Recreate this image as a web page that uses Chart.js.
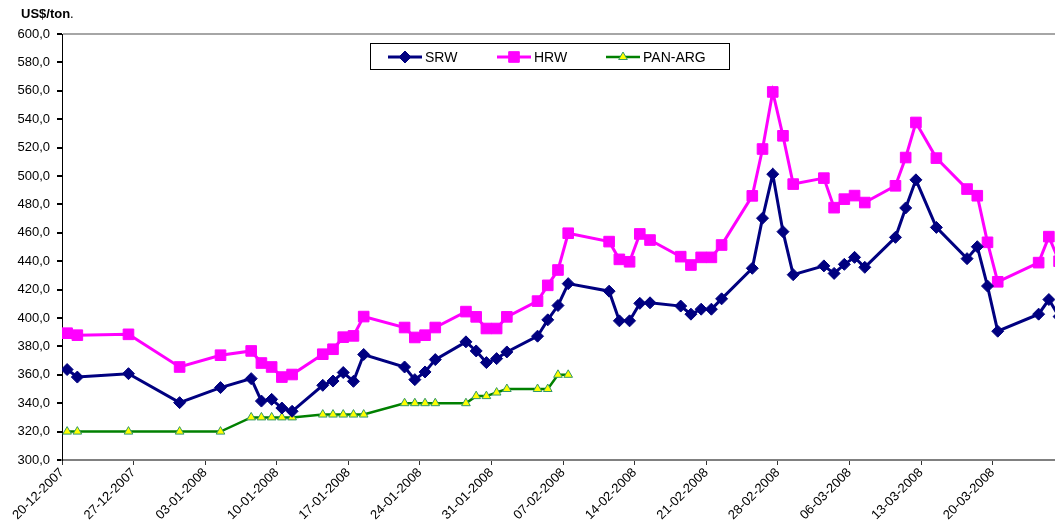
<!DOCTYPE html>
<html>
<head>
<meta charset="utf-8">
<title>SRW HRW PAN-ARG</title>
<script src="https://cdn.jsdelivr.net/npm/chart.js"></script>
<style>
    body { margin: 0; background: #fff; }
    #wrap { width: 1055px; height: 522px; }
</style>
</head>
<body>
<div id="wrap"><canvas id="chart-prices" width="1055" height="522"></canvas></div>
<script>
const dates = [
    '20-12-2007', '21-12-2007', '26-12-2007', '31-12-2007', '04-01-2008',
    '07-01-2008', '08-01-2008', '09-01-2008', '10-01-2008', '11-01-2008',
    '14-01-2008', '15-01-2008', '16-01-2008', '17-01-2008', '18-01-2008',
    '22-01-2008', '23-01-2008', '24-01-2008', '25-01-2008',
    '28-01-2008', '29-01-2008', '30-01-2008', '31-01-2008', '01-02-2008',
    '04-02-2008', '05-02-2008', '06-02-2008', '07-02-2008',
    '11-02-2008', '12-02-2008', '13-02-2008', '14-02-2008', '15-02-2008',
    '18-02-2008', '19-02-2008', '20-02-2008', '21-02-2008', '22-02-2008',
    '25-02-2008', '26-02-2008', '27-02-2008', '28-02-2008', '29-02-2008',
    '03-03-2008', '04-03-2008', '05-03-2008', '06-03-2008', '07-03-2008',
    '10-03-2008', '11-03-2008', '12-03-2008', '14-03-2008',
    '17-03-2008', '18-03-2008', '19-03-2008', '20-03-2008',
    '24-03-2008', '25-03-2008', '26-03-2008'
]
const srw = [
    363.7, 358.4, 360.8, 340.4, 351.0,
    357.3, 341.5, 342.7, 336.6, 334.3,
    352.6, 355.6, 361.6, 355.4, 374.3,
    365.5, 356.6, 362.0, 370.7,
    383.2, 376.8, 368.6, 371.4, 376.1,
    387.2, 398.7, 408.8, 424.2,
    418.9, 398.0, 398.0, 410.3, 410.7,
    408.4, 402.7, 406.2, 406.2, 413.5,
    435.0, 470.3, 501.3, 460.8, 430.5,
    436.7, 431.4, 437.8, 442.7, 435.7,
    456.8, 477.5, 497.3, 463.8,
    441.8, 450.2, 422.5, 390.7,
    402.7, 413.0, 401.0
]
const hrw = [
    389.3, 387.9, 388.5, 365.5, 373.8,
    376.8, 368.3, 365.5, 358.4, 360.2,
    374.5, 378.0, 386.5, 387.4, 401.0,
    393.3, 386.3, 387.9, 393.3,
    404.5, 400.8, 392.6, 392.6, 400.8,
    411.9, 423.0, 433.8, 459.7,
    453.8, 441.3, 439.6, 459.2, 454.9,
    443.2, 437.3, 442.7, 442.7, 451.4,
    486.0, 519.0, 559.2, 528.3, 494.3,
    498.5, 477.7, 483.7, 486.2, 481.3,
    493.1, 513.0, 537.7, 512.6,
    490.8, 486.1, 453.3, 425.5,
    439.0, 457.3, 440.0
]
const panArg = [
    320, 320, 320, 320, 320,
    330, 330, 330, 330, 330,
    332, 332, 332, 332, 332,
    340, 340, 340, 340,
    340, 345, 345, 347.5, 350,
    350, 350, 360, 360
]
const tickLabels = [
    '20-12-2007', '27-12-2007', '03-01-2008', '10-01-2008', '17-01-2008',
    '24-01-2008', '31-01-2008', '07-02-2008', '14-02-2008', '21-02-2008',
    '28-02-2008', '06-03-2008', '13-03-2008', '20-03-2008'
]
const seriesNames = ['SRW', 'HRW', 'PAN-ARG']

function dayOf(s) {
    let [d, m, y] = s.split('-').map(Number)
    return (Date.UTC(y, m - 1, d) - Date.UTC(2007, 11, 20)) / 864e5
}

// excel puts each day's point in the middle of the day
function toPoints(values) {
    return values.map((v, i) => ({ x: dayOf(dates[i]) + 0.5, y: v }))
}

const legendBox = {
    id: 'legendBox',
    afterDraw(chart) {
        const ctx = chart.ctx
        ctx.save()
        // axis unit on top
        ctx.fillStyle = '#000'
        ctx.textBaseline = 'alphabetic'
        ctx.font = 'bold 13px "Liberation Sans", Arial, sans-serif'
        ctx.fillText('US$/ton', 21, 18)
        let w = ctx.measureText('US$/ton').width
        ctx.font = '13px "Liberation Sans", Arial, sans-serif'
        ctx.fillText('.', 21 + w, 18)

        ctx.fillStyle = '#fff'
        ctx.fillRect(370, 43.5, 359, 26)
        ctx.strokeStyle = '#000'
        ctx.lineWidth = 1
        ctx.strokeRect(370.5, 43.5, 359, 26)

        const starts = [388, 497, 606]
        chart.data.datasets.forEach((ds, i) => {
            let x = starts[i], y = 57
            ctx.strokeStyle = ds.borderColor
            ctx.lineWidth = ds.borderWidth
            ctx.beginPath()
            ctx.moveTo(x, y)
            ctx.lineTo(x + 34, y)
            ctx.stroke()
            ctx.fillStyle = ds.pointBackgroundColor
            ctx.strokeStyle = ds.pointBorderColor
            ctx.lineWidth = ds.pointBorderWidth
            Chart.helpers.drawPoint(ctx, {
                pointStyle: ds.pointStyle,
                radius: ds.pointRadius,
                rotation: 0,
                borderWidth: ds.pointBorderWidth
            }, x + 17, y)
            ctx.fillStyle = '#000'
            ctx.font = '14px "Liberation Sans", Arial, sans-serif'
            ctx.textBaseline = 'middle'
            ctx.fillText(ds.label, x + 37, y + 1)
        })
        ctx.restore()
    }
}

const ctx = document.getElementById('chart-prices').getContext('2d')
const myChart = new Chart(ctx, {
    type: 'line',
    data: {
        datasets: [{
            label: seriesNames[0],
            data: toPoints(srw),
            borderColor: '#000080',
            borderWidth: 3,
            pointStyle: 'rectRot',
            pointRadius: 6,
            pointBackgroundColor: '#000080',
            pointBorderColor: '#000080',
            pointBorderWidth: 1
        }, {
            label: seriesNames[1],
            data: toPoints(hrw),
            borderColor: '#ff00ff',
            borderWidth: 3,
            pointStyle: 'rect',
            pointRadius: 7.5,
            pointBackgroundColor: '#ff00ff',
            pointBorderColor: '#ff00ff',
            pointBorderWidth: 1
        }, {
            label: seriesNames[2],
            data: toPoints(panArg),
            borderColor: '#008000',
            borderWidth: 2.5,
            pointStyle: 'triangle',
            pointRadius: 5,
            pointBackgroundColor: '#ffff00',
            pointBorderColor: '#339966',
            pointBorderWidth: 1
        }]
    },
    options: {
        responsive: false,
        animation: false,
        events: [],
        layout: {
            autoPadding: false,
            padding: { top: 34, right: 0, bottom: 0, left: 0 }
        },
        elements: {
            line: { tension: 0 }
        },
        plugins: {
            legend: { display: false },
            tooltip: { enabled: false }
        },
        scales: {
            x: {
                type: 'linear',
                min: 0,
                max: 97.1,
                afterBuildTicks: (axis) => {
                    axis.ticks = tickLabels.map(t => ({ value: dayOf(t) }))
                },
                afterFit: (axis) => {
                    axis.height = 62
                    axis.paddingRight = 0
                },
                ticks: {
                    autoSkip: false,
                    minRotation: 45,
                    maxRotation: 45,
                    padding: 0,
                    color: '#000',
                    font: { family: '"Liberation Sans", Arial, sans-serif', size: 13 },
                    callback: (v, i) => tickLabels[i]
                },
                grid: {
                    drawOnChartArea: false,
                    drawTicks: true,
                    tickLength: 5,
                    tickColor: '#333'
                },
                border: { display: true, color: '#808080', width: 2 }
            },
            y: {
                min: 300,
                max: 600,
                afterFit: (axis) => {
                    axis.width = 62
                },
                ticks: {
                    stepSize: 20,
                    padding: 7,
                    color: '#000',
                    font: { family: '"Liberation Sans", Arial, sans-serif', size: 13 },
                    callback: (v) => v.toFixed(1).replace('.', ',')
                },
                grid: {
                    drawTicks: true,
                    tickLength: 5,
                    tickColor: '#000',
                    lineWidth: 2,
                    color: (c) => c.tick && c.tick.value === 600 ? '#a6a6a6' : 'rgba(0,0,0,0)'
                },
                border: { display: true, color: '#000', width: 1 }
            }
        }
    },
    plugins: [legendBox]
});
</script>
</body>
</html>
